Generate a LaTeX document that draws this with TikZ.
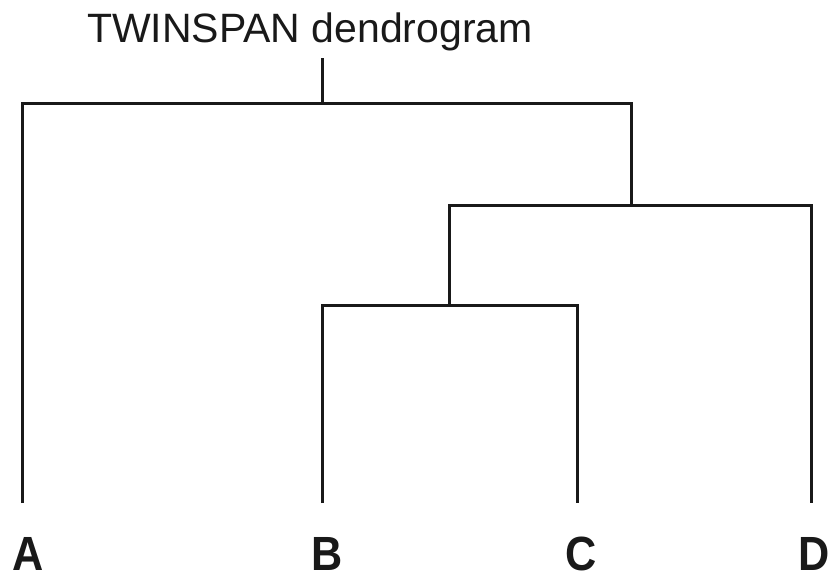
\documentclass[tikz,border=0pt]{standalone}
\usepackage{fontspec}
\setmainfont{Liberation Sans}
\begin{document}
\begin{tikzpicture}[x=1pt,y=1pt,
  branch/.style={line width=3pt, draw=black!90, line join=miter, line cap=butt},
  titletext/.style={anchor=base, inner sep=0pt, font=\fontsize{41}{44}\selectfont, text=black!90},
  leaflabel/.style={anchor=base, inner sep=0pt, text depth=0pt, xscale=0.9, font=\fontsize{48}{52}\selectfont\bfseries, text=black!90}]
\useasboundingbox (0,0) rectangle (833,-579);
\node[titletext] (title) at (310,-42) {TWINSPAN dendrogram};
\coordinate (stem) at (322,-58);
\coordinate (root) at (322,-103);
\coordinate (BCD) at (631,-205);
\coordinate (BC) at (449,-305);
\coordinate (tA) at (22,-503);
\coordinate (tB) at (322,-503);
\coordinate (tC) at (577,-503);
\coordinate (tD) at (811,-503);
\node[leaflabel] (A) at (28,-570) {A};
\node[leaflabel] (B) at (327,-570) {B};
\node[leaflabel] (C) at (581,-570) {C};
\node[leaflabel] (D) at (814,-570) {D};
\draw[branch] (stem) -- (root);
\draw[branch] (tA) |- (root) -| (BCD);
\draw[branch] (BC) |- (BCD) -| (tD);
\draw[branch] (tB) |- (BC) -| (tC);
\end{tikzpicture}
\end{document}
